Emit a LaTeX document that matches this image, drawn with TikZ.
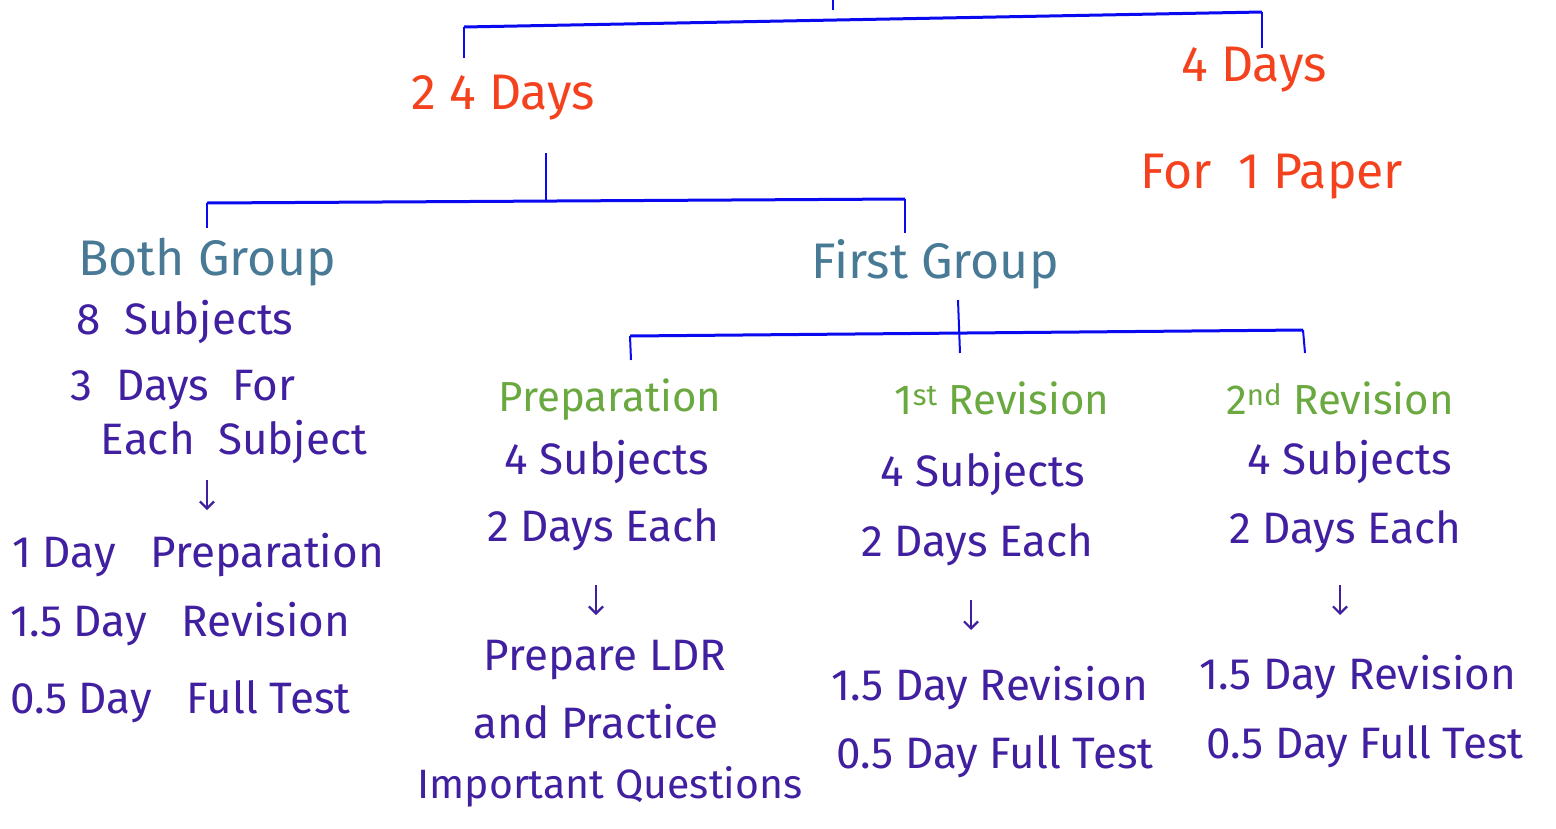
\documentclass[tikz,border=0pt]{standalone}
\usepackage{fontspec}
\setmainfont{Fira Sans}
\usetikzlibrary{arrows.meta}
\definecolor{hred}{RGB}{244,66,30}
\definecolor{hteal}{RGB}{72,122,150}
\definecolor{hgreen}{RGB}{106,168,64}
\definecolor{hpurp}{RGB}{64,32,160}
\definecolor{hblue}{RGB}{10,10,240}
\tikzset{
  redt/.style={text=hred,font=\fontsize{50}{54}\selectfont,inner sep=0pt},
  tealt/.style={text=hteal,font=\fontsize{50}{54}\selectfont,inner sep=0pt},
  greent/.style={text=hgreen,font=\fontsize{42}{46}\selectfont,inner sep=0pt},
  purpt/.style={text=hpurp,font=\fontsize{44}{48}\selectfont,inner sep=0pt},
  tline/.style={draw=hblue,line width=3pt},
  vline/.style={draw=hblue,line width=2pt},
  darr/.style={draw=hpurp,line width=2.2pt,-{Straight Barb[length=7pt,width=14pt,line width=2.2pt]}},
}
\begin{document}
\begin{tikzpicture}[x=1pt,y=-1pt]
\useasboundingbox (0,0) rectangle (1556,828);
% ---- top tree
\coordinate (t0) at (833,0);
\coordinate (t1) at (833,10);
\coordinate (tl) at (464,27);
\coordinate (tr) at (1262,12);
\coordinate (tlb) at (464,58);
\coordinate (trb) at (1262,48);
\draw[vline] (t0) -- (t1);
\draw[tline] (tl) -- (tr);
\draw[vline] (tl) -- (tlb);
\draw[vline] (tr) -- (trb);
\node[redt] (d24) at (503,98) {2 4 Days};
\node[redt] (d4) at (1254,70) {4 Days};
\node[redt] (p1) at (1272,177) {For\ \ 1\ Paper};
% ---- second tree
\coordinate (s0) at (546,153);
\coordinate (s1) at (546,201);
\coordinate (sl) at (207,203);
\coordinate (sr) at (905,199);
\coordinate (slb) at (207,228);
\coordinate (srb) at (905,233);
\draw[vline] (s0) -- (s1);
\draw[tline] (sl) -- (sr);
\draw[vline] (sl) -- (slb);
\draw[vline] (sr) -- (srb);
\node[tealt] (bg) at (207,262) {Both Group};
\node[tealt] (fg) at (935,264) {First Group};
% ---- both group column
\node[purpt] (b1) at (185,322) {8\ \ Subjects};
\node[purpt] (b2) at (183,390) {3\ \ Days\ \ For};
\node[purpt] (b3) at (234,442) {Each\ \ Subject};
\coordinate (ba0) at (207,480);
\coordinate (ba1) at (207,510);
\draw[darr] (ba0) -- (ba1);
\node[purpt,anchor=west] (b4) at (12,555) {1 Day\ \ \ Preparation};
\node[purpt,anchor=west] (b5) at (10,624) {1.5 Day\ \ \ Revision};
\node[purpt,anchor=west] (b6) at (10,702) {0.5 Day\ \ \ Full\ Test};
% ---- third tree
\coordinate (u0) at (958,300);
\coordinate (ul) at (630,336);
\coordinate (ur) at (1303,330);
\coordinate (ulb) at (631,360);
\coordinate (umb) at (960,353);
\coordinate (urb) at (1305,353);
\draw[vline] (u0) -- (umb);
\draw[tline] (ul) -- (ur);
\draw[vline] (ul) -- (ulb);
\draw[vline] (ur) -- (urb);
\node[greent] (g1) at (610,400) {Preparation};
\node[greent] (g2) at (1002,398) {1\textsuperscript{st} Revision};
\node[greent] (g3) at (1340,398) {2\textsuperscript{nd} Revision};
% preparation column
\node[purpt] (c1) at (607,462) {4 Subjects};
\node[purpt] (c2) at (603,530) {2 Days Each};
\coordinate (ca0) at (596,585);
\coordinate (ca1) at (596,615);
\draw[darr] (ca0) -- (ca1);
\node[purpt] (c3) at (605,660) {Prepare LDR};
\node[purpt] (c4) at (596,722) {and Practice};
\node[purpt,font=\fontsize{41}{44}\selectfont] (c5) at (610,787) {Important Questions};
% 1st revision column
\node[purpt] (r1) at (983,474) {4 Subjects};
\node[purpt] (r2) at (977,545) {2 Days Each};
\coordinate (ra0) at (971,600);
\coordinate (ra1) at (971,630);
\draw[darr] (ra0) -- (ra1);
\node[purpt] (r3) at (990,688) {1.5 Day Revision};
\node[purpt] (r4) at (995,757) {0.5 Day Full Test};
% 2nd revision column
\node[purpt] (q1) at (1350,462) {4 Subjects};
\node[purpt] (q2) at (1345,532) {2 Days Each};
\coordinate (qa0) at (1340,585);
\coordinate (qa1) at (1340,615);
\draw[darr] (qa0) -- (qa1);
\node[purpt] (q3) at (1358,677) {1.5 Day Revision};
\node[purpt] (q4) at (1365,747) {0.5 Day Full Test};
\end{tikzpicture}
\end{document}
